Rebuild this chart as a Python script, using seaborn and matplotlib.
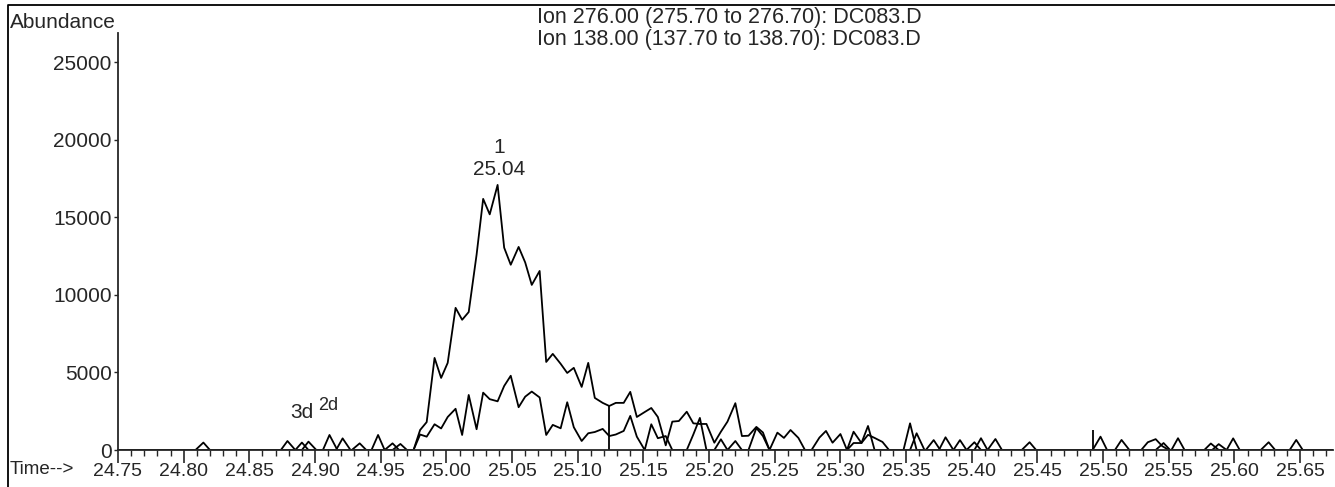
import numpy as np
import pandas as pd
import matplotlib
matplotlib.use("Agg")
import matplotlib.pyplot as plt
from matplotlib.lines import Line2D
from matplotlib.ticker import MultipleLocator, FixedLocator
import seaborn as sns

sns.set_style("ticks")
plt.rcParams["font.family"] = ["Liberation Sans", "DejaVu Sans"]

# Ion 276 chromatogram (retention time in min, abundance)
ion276_time = [
    24.750, 24.874, 24.879, 24.885, 24.890, 24.895, 24.901, 24.906, 24.911, 24.917,
    24.928, 24.934, 24.939, 24.953, 24.959, 24.964,
    24.975, 24.980, 24.985, 24.991, 24.996, 25.001, 25.007, 25.012, 25.017, 25.023,
    25.028, 25.033, 25.039, 25.044, 25.049, 25.055, 25.060, 25.065, 25.071, 25.076,
    25.081, 25.087, 25.092, 25.097, 25.103, 25.108, 25.113, 25.119, 25.124, 25.129,
    25.135, 25.140, 25.145, 25.151, 25.156, 25.161, 25.167, 25.172, 25.177, 25.183,
    25.188, 25.193, 25.198, 25.204, 25.209, 25.214, 25.220, 25.225, 25.230, 25.236,
    25.241, 25.246, 25.252, 25.257, 25.262, 25.268, 25.273, 25.278, 25.284, 25.289,
    25.294, 25.300, 25.305, 25.310, 25.316, 25.321, 25.326, 25.348, 25.353, 25.358,
    25.365, 25.371, 25.376, 25.386, 25.391, 25.396, 25.402, 25.407, 25.412,
    25.438, 25.444, 25.449, 25.509, 25.514, 25.520, 25.529, 25.534, 25.540, 25.545,
    25.550, 25.552, 25.557, 25.562, 25.583, 25.588, 25.594, 25.620, 25.626, 25.631,
    25.675,
]
ion276_abund = [
    0, 0, 580, 0, 0, 540, 0, 0, 970, 0,
    0, 430, 0, 0, 430, 0,
    0, 1290, 1800, 5940, 4650, 5620, 9170, 8400, 8900, 12600,
    16200, 15200, 17100, 13050, 11950, 13100, 12100, 10650, 11550, 5680,
    6200, 5560, 4970, 5300, 4070, 5620, 3360, 3040, 2840, 3040,
    3040, 3750, 2130, 2450, 2710, 2130, 300, 1830, 1870, 2470,
    1720, 1680, 1680, 470, 1180, 1830, 3020, 900, 920, 1490,
    1130, 0, 1120, 780, 1290, 780, 0, 0, 800, 1230,
    470, 1030, 0, 450, 450, 1550, 0, 0, 1720, 0,
    0, 640, 0, 0, 640, 0, 0, 760, 0,
    0, 500, 0, 0, 650, 0, 0, 500, 700, 250,
    0, 0, 760, 0, 0, 380, 0, 0, 500, 0,
    0,
]

# Ion 138 chromatogram
ion138_time = [
    24.750, 24.809, 24.815, 24.820, 24.885, 24.890, 24.895, 24.916, 24.921, 24.927,
    24.943, 24.948, 24.953, 24.959, 24.965, 24.970,
    24.975, 24.980, 24.985, 24.991, 24.996, 25.001, 25.007, 25.012, 25.017, 25.023,
    25.028, 25.033, 25.039, 25.044, 25.049, 25.055, 25.060, 25.065, 25.071, 25.076,
    25.081, 25.087, 25.092, 25.097, 25.103, 25.108, 25.113, 25.119, 25.124, 25.129,
    25.135, 25.140, 25.145, 25.151, 25.156, 25.161, 25.167, 25.172, 25.183, 25.188,
    25.193, 25.198, 25.204, 25.209, 25.214, 25.220, 25.225, 25.230, 25.236, 25.241,
    25.246, 25.305, 25.310, 25.316, 25.321, 25.326, 25.332, 25.337, 25.353, 25.358,
    25.364, 25.375, 25.380, 25.386, 25.396, 25.402, 25.407, 25.412, 25.418, 25.423,
    25.492, 25.498, 25.503, 25.540, 25.546, 25.551, 25.577, 25.582, 25.588, 25.594,
    25.599, 25.604, 25.642, 25.647, 25.652, 25.675,
]
ion138_abund = [
    0, 0, 480, 0, 0, 480, 0, 0, 750, 0,
    0, 970, 0, 0, 390, 0,
    0, 1000, 860, 1660, 1390, 2130, 2660, 970, 3550, 1340,
    3700, 3280, 3140, 4130, 4790, 2760, 3440, 3770, 3390, 970,
    1620, 1400, 3080, 1470, 580, 1080, 1160, 1360, 900, 1000,
    1230, 2200, 860, 0, 1660, 760, 900, 0, 0, 1000,
    2070, 0, 0, 690, 0, 580, 0, 0, 1420, 900,
    0, 0, 1180, 450, 980, 780, 520, 0, 0, 1080,
    0, 0, 820, 0, 0, 500, 0, 0, 710, 0,
    0, 860, 0, 0, 450, 0, 0, 420, 0, 0,
    750, 0, 0, 650, 0, 0,
]

# integration markers (time, abundance at top)
marker_time = [25.124, 25.492]
marker_top = [2840, 1300]

peak_time = 25.040
peak_number = "1"
peak_rt_label = "25.04"
minor_labels = ["3d", "2d"]
minor_label_time = [24.890, 24.910]
minor_label_abund = [2450, 2900]

title_lines = [
    "Ion 276.00 (275.70 to 276.70): DC083.D",
    "Ion 138.00 (137.70 to 138.70): DC083.D",
]
x_ticks = [24.75, 24.80, 24.85, 24.90, 24.95, 25.00, 25.05, 25.10, 25.15, 25.20,
           25.25, 25.30, 25.35, 25.40, 25.45, 25.50, 25.55, 25.60, 25.65]
y_ticks = [0, 5000, 10000, 15000, 20000, 25000]

df = pd.concat([
    pd.DataFrame({"time": ion276_time, "abundance": ion276_abund, "ion": "276"}),
    pd.DataFrame({"time": ion138_time, "abundance": ion138_abund, "ion": "138"}),
])

fig = plt.figure(figsize=(13.35, 4.87), dpi=100)
ax = fig.add_axes([118 / 1335, 37 / 487, 1215 / 1335, 417 / 487])

sns.lineplot(data=df, x="time", y="abundance", units="ion", estimator=None,
             sort=False, color="black", linewidth=1.3, ax=ax, legend=False)
ax.vlines(marker_time, 0, marker_top, color="black", linewidth=1.3)

ax.set_xlim(24.75, 25.675)
ax.set_ylim(0, 26900)
ax.set_xlabel("")
ax.set_ylabel("")
sns.despine(ax=ax)
for s in ["left", "bottom"]:
    ax.spines[s].set_linewidth(1.3)

ax.xaxis.set_major_locator(FixedLocator(x_ticks))
ax.xaxis.set_minor_locator(MultipleLocator(0.01))
ax.set_xticklabels([f"{t:.2f}" for t in x_ticks], fontsize=14)
ax.yaxis.set_major_locator(FixedLocator(y_ticks))
ax.set_yticklabels([str(v) for v in y_ticks], fontsize=15)
ax.tick_params(axis="x", which="major", length=9.5, width=1.2, pad=0, direction="out")
ax.tick_params(axis="x", which="minor", length=4.5, width=1.0, direction="out")
ax.tick_params(axis="y", which="major", length=3, width=1.0, pad=1.5, direction="out")

ax.text(peak_time, 17500, peak_rt_label, ha="center", va="bottom", fontsize=15)
ax.text(peak_time, 18900, peak_number, ha="center", va="bottom", fontsize=15)
ax.text(minor_label_time[0], minor_label_abund[0], minor_labels[0], ha="center",
        va="center", fontsize=15)
ax.text(minor_label_time[1], minor_label_abund[1], minor_labels[1], ha="center",
        va="center", fontsize=13)

fig.text(537 / 1335, 1 - 18 / 487, title_lines[0], ha="left", va="center", fontsize=15.5)
fig.text(537 / 1335, 1 - 40 / 487, title_lines[1], ha="left", va="center", fontsize=15.5)
fig.text(10 / 1335, 1 - 22 / 487, "Abundance", ha="left", va="center", fontsize=15)
fig.text(10 / 1335, 1 - 469 / 487, "Time-->", ha="left", va="center", fontsize=13.5)

# page frame
fig.add_artist(Line2D([8 / 1335, 8 / 1335, 1.0], [0.0, 1 - 5 / 487, 1 - 5 / 487],
                      transform=fig.transFigure, color="black", linewidth=1.3))

fig.savefig("out.png", dpi=100)
plt.close()
